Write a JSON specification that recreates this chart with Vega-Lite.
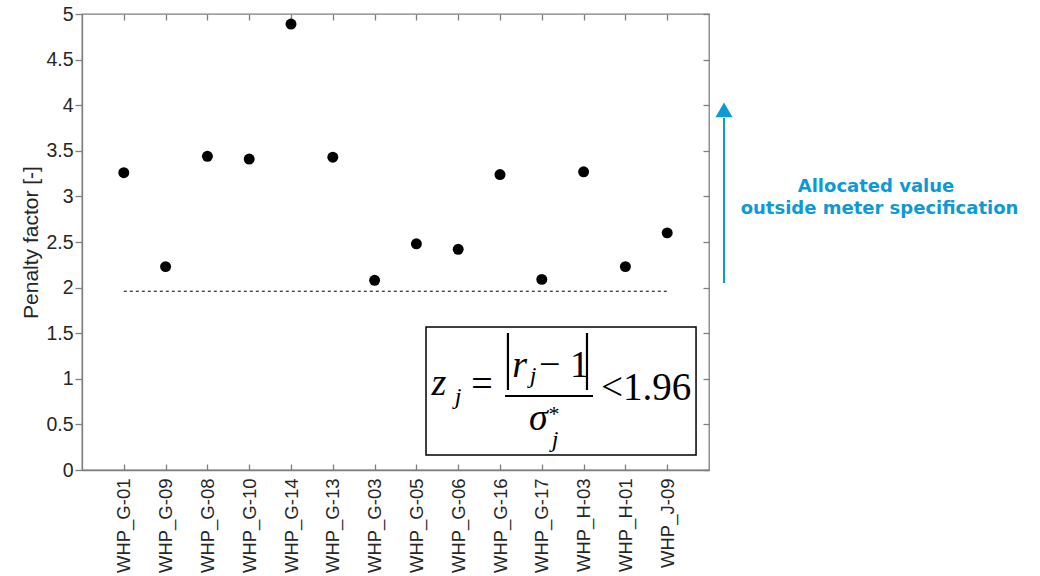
{
  "$schema": "https://vega.github.io/schema/vega-lite/v6.json",
  "width": 627,
  "height": 456,
  "autosize": {"type": "none"},
  "padding": {"left": 82, "top": 14, "right": 331, "bottom": 106},
  "background": "white",
  "config": {
    "view": {"stroke": "#7f7f7f", "strokeWidth": 1.3},
    "axis": {
      "domainColor": "#7f7f7f",
      "domainWidth": 1.3,
      "tickColor": "#7f7f7f",
      "tickWidth": 1.3,
      "labelColor": "#262626",
      "labelFont": "Liberation Sans",
      "labelFontSize": 18.5,
      "titleFont": "Liberation Sans",
      "titleFontWeight": "normal",
      "titleColor": "#262626",
      "titleFontSize": 21,
      "grid": false
    }
  },
  "resolve": {"scale": {"x": "independent", "y": "independent"}},
  "layer": [
    {
      "data": {
        "values": [
          {"meter": "WHP_G-01", "penalty": 3.26},
          {"meter": "WHP_G-09", "penalty": 2.23},
          {"meter": "WHP_G-08", "penalty": 3.44},
          {"meter": "WHP_G-10", "penalty": 3.41},
          {"meter": "WHP_G-14", "penalty": 4.89},
          {"meter": "WHP_G-13", "penalty": 3.43},
          {"meter": "WHP_G-03", "penalty": 2.08},
          {"meter": "WHP_G-05", "penalty": 2.48},
          {"meter": "WHP_G-06", "penalty": 2.42},
          {"meter": "WHP_G-16", "penalty": 3.24},
          {"meter": "WHP_G-17", "penalty": 2.09},
          {"meter": "WHP_H-03", "penalty": 3.27},
          {"meter": "WHP_H-01", "penalty": 2.23},
          {"meter": "WHP_J-09", "penalty": 2.60}
        ]
      },
      "mark": {"type": "point", "filled": true, "color": "black", "size": 120, "opacity": 1},
      "encoding": {
        "x": {
          "field": "meter",
          "type": "nominal",
          "sort": null,
          "scale": {"type": "point", "padding": 1},
          "axis": {"title": null, "labelAngle": -90, "tickSize": -6, "labelPadding": 14, "domain": true}
        },
        "y": {
          "field": "penalty",
          "type": "quantitative",
          "scale": {"domain": [0, 5], "nice": false, "zero": false},
          "axis": {
            "title": "Penalty factor [-]",
            "values": [0, 0.5, 1, 1.5, 2, 2.5, 3, 3.5, 4, 4.5, 5],
            "format": "~g",
            "tickSize": 7,
            "labelPadding": 2,
            "labelFontSize": 19.5,
            "titlePadding": 4,
            "labelFlush": false
          }
        }
      }
    },
    {
      "encoding": {
        "x": {
          "field": "x",
          "type": "quantitative",
          "scale": {"domain": [0, 15], "nice": false, "zero": false},
          "axis": {"orient": "top", "values": [1, 2, 3, 4, 5, 6, 7, 8, 9, 10, 11, 12, 13, 14], "labels": false, "title": null, "tickSize": -6, "domain": false}
        },
        "y": {
          "field": "y",
          "type": "quantitative",
          "scale": {"domain": [0, 5], "nice": false, "zero": false},
          "axis": {"orient": "right", "values": [0, 0.5, 1, 1.5, 2, 2.5, 3, 3.5, 4, 4.5, 5], "labels": false, "title": null, "tickSize": -6, "domain": false}
        }
      },
      "layer": [
        {
          "data": {"values": [{"x": 1, "x2": 14, "y": 1.96}]},
          "mark": {"type": "rule", "strokeDash": [3, 3], "color": "black", "strokeWidth": 1},
          "encoding": {"x2": {"field": "x2"}}
        },
        {
          "data": {"values": [{"x": 8.23, "x2": 14.69, "y": 1.568, "y2": 0.164}]},
          "mark": {"type": "rect", "fill": "white", "stroke": "black", "strokeWidth": 1.5},
          "encoding": {"x2": {"field": "x2"}, "y2": {"field": "y2"}}
        },
        {
          "data": {"values": [
            {"x": 8.541, "y": 0.8224, "t": "z"},
            {"x": 10.47, "y": 1.0197, "t": "r"},
            {"x": 10.921, "y": 0.4386, "t": "σ"}
          ]},
          "mark": {"type": "text", "font": "Liberation Serif", "fontStyle": "italic", "fontSize": 38, "align": "center", "baseline": "alphabetic", "color": "black"},
          "encoding": {"text": {"field": "t"}}
        },
        {
          "data": {"values": [
            {"x": 9.569, "y": 0.8114, "t": "="},
            {"x": 11.53, "y": 1.0197, "t": "− 1"}
          ]},
          "mark": {"type": "text", "font": "Liberation Serif", "fontSize": 38, "align": "center", "baseline": "alphabetic", "color": "black"},
          "encoding": {"text": {"field": "t"}}
        },
        {
          "data": {"values": [{"x": 13.493, "y": 0.7675, "t": "<1.96"}]},
          "mark": {"type": "text", "font": "Liberation Serif", "fontSize": 39, "align": "center", "baseline": "alphabetic", "color": "black"},
          "encoding": {"text": {"field": "t"}}
        },
        {
          "data": {"values": [
            {"x": 8.995, "y": 0.7237, "t": "j"},
            {"x": 10.79, "y": 0.954, "t": "j"},
            {"x": 11.316, "y": 0.2522, "t": "j"}
          ]},
          "mark": {"type": "text", "font": "Liberation Serif", "fontStyle": "italic", "fontSize": 24, "align": "center", "baseline": "alphabetic", "color": "black"},
          "encoding": {"text": {"field": "t"}}
        },
        {
          "data": {"values": [{"x": 11.292, "y": 0.5373, "t": "*"}]},
          "mark": {"type": "text", "font": "Liberation Serif", "fontSize": 22, "align": "center", "baseline": "alphabetic", "color": "black"},
          "encoding": {"text": {"field": "t"}}
        },
        {
          "data": {"values": [
            {"x": 10.19, "y": 1.502, "y2": 0.877},
            {"x": 12.081, "y": 1.502, "y2": 0.877}
          ]},
          "mark": {"type": "rule", "color": "black", "strokeWidth": 2.2},
          "encoding": {"y2": {"field": "y2"}}
        },
        {
          "data": {"values": [{"x": 10.12, "x2": 12.225, "y": 0.8114}]},
          "mark": {"type": "rule", "color": "black", "strokeWidth": 2},
          "encoding": {"x2": {"field": "x2"}}
        },
        {
          "data": {"values": [{"x": 15.359, "y": 2.05, "y2": 3.86}]},
          "mark": {"type": "rule", "color": "#0c9ad6", "strokeWidth": 2},
          "encoding": {"y2": {"field": "y2"}}
        },
        {
          "data": {"values": [{"x": 15.359, "y": 3.95}]},
          "mark": {"type": "point", "shape": "triangle-up", "filled": true, "color": "#0c9ad6", "size": 290, "opacity": 1},
          "encoding": {}
        },
        {
          "data": {"values": [
            {"x": 18.995, "y": 3.0515, "t": "Allocated value"},
            {"x": 19.079, "y": 2.807, "t": "outside meter specification"}
          ]},
          "mark": {"type": "text", "font": "DejaVu Sans", "fontWeight": "bold", "fontSize": 18, "align": "center", "baseline": "alphabetic", "color": "#0c9ad6"},
          "encoding": {"text": {"field": "t"}}
        }
      ]
    }
  ]
}
